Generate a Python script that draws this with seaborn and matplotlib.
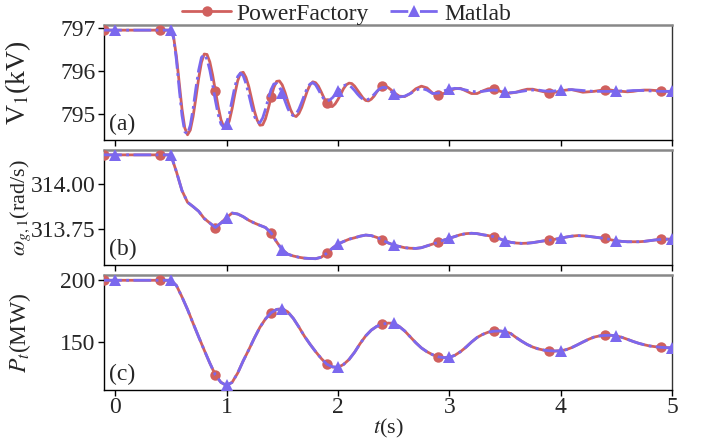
import numpy as np
import pandas as pd
import matplotlib
matplotlib.use("Agg")
import matplotlib.pyplot as plt
import seaborn as sns
from matplotlib.lines import Line2D

# ---------------- data ----------------
# time grids (s)
t_flat = np.arange(-1, 5) / 10.0        # -0.1 ... 0.4
t_fine = np.arange(20, 100) / 40.0      # 0.5 ... 2.475
t_coarse = np.arange(50, 101) / 20.0    # 2.5 ... 5.0
t_a = np.concatenate([t_flat, t_fine, t_coarse])
t_bc = np.arange(-2, 101) / 20.0        # -0.1 ... 5.0

# (a) bus voltage V1 (kV)
v1_pf = [796.94] * 6 + [
    796.94, 796.78, 796.34, 795.74, 795.13, 794.69, 794.53, 794.64, 794.95, 795.38,
    795.83, 796.20, 796.39, 796.38, 796.21, 795.91, 795.55, 795.18, 794.88, 794.71,
    794.69,
    794.85, 795.13, 795.47, 795.77, 795.95, 795.97, 795.85, 795.64, 795.36, 795.08,
    794.87, 794.75, 794.76, 794.90, 795.13, 795.39, 795.62, 795.76, 795.77, 795.68,
    795.51, 795.30, 795.11, 794.98, 794.95, 795.02, 795.16, 795.35, 795.54, 795.68,
    795.75, 795.73, 795.65, 795.52, 795.38, 795.26, 795.19, 795.18, 795.24, 795.34,
    795.46, 795.59, 795.68, 795.72, 795.71, 795.65, 795.56, 795.47, 795.38, 795.32,
    795.31, 795.35, 795.42, 795.52, 795.60, 795.65, 795.645, 795.62, 795.57,
] + [
    795.51, 795.42, 795.41, 795.48, 795.59, 795.65, 795.61, 795.49, 795.45, 795.48,
    795.54,
    795.59, 795.60, 795.54, 795.48, 795.48, 795.54, 795.59, 795.59, 795.54, 795.49,
    795.49, 795.51, 795.55, 795.58, 795.58, 795.55, 795.52, 795.50, 795.51, 795.54,
    795.56, 795.57, 795.54, 795.51, 795.52, 795.53, 795.55, 795.56, 795.56, 795.54,
    795.53, 795.52, 795.53, 795.55, 795.56, 795.56, 795.55, 795.54, 795.53, 795.53,
]
v1_ml = [796.94] * 6 + [
    796.94, 796.76, 796.26, 795.60, 794.98, 794.60, 794.55, 794.75, 795.13, 795.60,
    796.02, 796.31, 796.38, 796.27, 796.02, 795.69, 795.32, 795.00, 794.78, 794.70,
    794.78,
    795.01, 795.33, 795.64, 795.87, 795.95, 795.89, 795.71, 795.46, 795.19, 794.96,
    794.82, 794.81, 794.92, 795.12, 795.36, 795.57, 795.70, 795.71, 795.63, 795.49,
    795.31, 795.14, 795.01, 794.97, 795.01, 795.12, 795.28, 795.45, 795.61, 795.70,
    795.73, 795.68, 795.57, 795.45, 795.35, 795.31, 795.33, 795.38, 795.45, 795.53,
    795.60, 795.66, 795.68, 795.67, 795.62, 795.55, 795.47, 795.40, 795.35, 795.33,
    795.35, 795.39, 795.46, 795.53, 795.59, 795.62, 795.62, 795.58, 795.53,
] + [
    795.48, 795.40, 795.42, 795.48, 795.56, 795.60, 795.56, 795.48, 795.49, 795.54,
    795.58,
    795.60, 795.59, 795.56, 795.53, 795.52, 795.53, 795.55, 795.56, 795.55, 795.52,
    795.50, 795.51, 795.53, 795.55, 795.56, 795.56, 795.54, 795.53, 795.54, 795.56,
    795.57, 795.57, 795.56, 795.55, 795.54, 795.53, 795.53, 795.53, 795.53, 795.53,
    795.54, 795.54, 795.55, 795.55, 795.55, 795.54, 795.54, 795.53, 795.53, 795.53,
]

# (b) generator speed (rad/s)
omega_pf = [314.163] * 13 + [
    314.07, 313.965, 313.90, 313.876, 313.85, 313.81, 313.785, 313.76, 313.785, 313.815,
    313.84, 313.835, 313.82, 313.80, 313.785, 313.772, 313.76, 313.73, 313.68, 313.637,
    313.612, 313.602, 313.595, 313.59, 313.588, 313.587, 313.595, 313.617, 313.645, 313.668,
    313.682, 313.695, 313.703, 313.712, 313.718, 313.715, 313.705, 313.69, 313.675, 313.663,
    313.655, 313.648, 313.645, 313.644, 313.648, 313.658, 313.668, 313.678, 313.69, 313.70,
    313.71, 313.72, 313.726, 313.728, 313.726, 313.72, 313.715, 313.709, 313.698, 313.686,
    313.678, 313.674, 313.672, 313.673, 313.676, 313.681, 313.686, 313.69, 313.695, 313.70,
    313.707, 313.712, 313.715, 313.714, 313.711, 313.707, 313.703, 313.70, 313.692, 313.686,
    313.683, 313.681, 313.681, 313.681, 313.683, 313.687, 313.691, 313.694, 313.695, 313.696,
]
omega_ml = list(omega_pf)

# (c) active power (MW)
pt_pf = [200.0] * 13 + [
    195.8, 186.5, 176.3, 165.0, 154.0, 143.2, 132.7, 123.0, 117.0, 114.5,
    117.0, 124.5, 134.5, 143.5, 153.0, 161.8, 168.6, 173.6, 176.3, 176.9,
    174.3, 169.0, 162.0, 154.5, 148.0, 142.0, 136.5, 131.8, 129.6, 129.2,
    131.5, 135.6, 141.5, 148.6, 154.8, 159.5, 162.6, 164.3, 165.2, 165.0,
    162.5, 158.8, 154.0, 149.2, 145.0, 141.9, 139.5, 137.8, 137.1, 137.3,
    139.0, 141.9, 145.6, 149.8, 153.5, 156.0, 157.8, 158.6, 158.8, 158.3,
    156.8, 153.5, 150.5, 147.8, 145.7, 144.2, 143.2, 142.7, 142.5, 142.7,
    143.6, 145.3, 147.5, 149.8, 152.0, 153.8, 154.8, 155.2, 155.3, 154.8,
    153.6, 152.0, 150.3, 148.8, 147.6, 146.6, 146.0, 145.5, 145.2, 145.1,
]
pt_ml = list(pt_pf)

# marker times
pf_marker_t = [-0.1, 0.4, 0.9, 1.4, 1.9, 2.4, 2.9, 3.4, 3.9, 4.4, 4.9]
ml_marker_t = [0.0, 0.5, 1.0, 1.5, 2.0, 2.5, 3.0, 3.5, 4.0, 4.5, 5.0]

series_labels = ["PowerFactory", "Matlab"]
panel_tags = ["(a)", "(b)", "(c)"]
ylabels = [r"V$_1$(kV)", r"$\omega_{g,1}$(rad/s)", r"$P_t$(MW)"]

assert len(v1_pf) == len(t_a) and len(v1_ml) == len(t_a)
assert len(omega_pf) == len(t_bc) and len(pt_pf) == len(t_bc)

# ---------------- style ----------------
sns.set_style("ticks")
plt.rcParams["font.family"] = ["Liberation Serif", "DejaVu Serif"]
plt.rcParams["mathtext.fontset"] = "stix"
plt.rcParams["xtick.direction"] = "out"
plt.rcParams["ytick.direction"] = "out"

RED = "#d0605e"
BLUE = "#7b68ee"
FS = 17
ylabel_fs = [20, 16, 17]

fig = plt.figure(figsize=(7.01, 4.45), dpi=100)
L, R = 104 / 701, 672 / 701
boxes = [(24.5, 140), (150, 265), (275, 390)]
axes = []
for top, bot in boxes:
    axes.append(fig.add_axes([L, 1 - bot / 445, R - L, (bot - top) / 445]))


def idx_of(tt, marks):
    tt = np.asarray(tt)
    return [int(np.argmin(np.abs(tt - m))) for m in marks]


data = [
    (t_a, v1_pf, v1_ml),
    (t_bc, omega_pf, omega_ml),
    (t_bc, pt_pf, pt_ml),
]
ylims = [(794.41, 797.07), (313.552, 314.19), (110.8, 204.3)]
yticks = [[795, 796, 797], [313.75, 314.00], [150, 200]]
ytl = [["795", "796", "797"], ["313.75", "314.00"], ["150", "200"]]

for k, (ax, (tt, ypf, yml)) in enumerate(zip(axes, data)):
    df = pd.DataFrame({"t": tt, "pf": ypf, "ml": yml})
    sns.lineplot(data=df, x="t", y="pf", ax=ax, color=RED, lw=2.0,
                 marker="o", markersize=7.5, markeredgewidth=0,
                 markevery=idx_of(tt, pf_marker_t), zorder=3)
    sns.lineplot(data=df, x="t", y="ml", ax=ax, color=BLUE, lw=2.0, ls="-.",
                 marker="^", markersize=8.5, markeredgewidth=0,
                 markevery=idx_of(tt, ml_marker_t), zorder=4)
    ax.set_xlim(-0.1, 5.0)
    ax.set_ylim(*ylims[k])
    ax.set_yticks(yticks[k])
    ax.set_yticklabels(ytl[k])
    ax.set_xticks([0, 1, 2, 3, 4, 5])
    ax.set_xlabel("")
    ax.set_ylabel(ylabels[k], fontsize=ylabel_fs[k])
    ax.yaxis.set_label_coords(-0.125, 0.5)
    ax.tick_params(axis="both", labelsize=FS, length=4, width=1, pad=2, color="black")
    if k < 2:
        ax.tick_params(axis="x", labelbottom=False)
    for s in ["left", "bottom", "right"]:
        ax.spines[s].set_color("black")
        ax.spines[s].set_linewidth(1.0)
    ax.spines["top"].set_color("#888888")
    ax.spines["top"].set_linewidth(1.8)
    ax.spines["right"].set_color("#333333")
    ax.text(0.008, 0.04, panel_tags[k], transform=ax.transAxes, fontsize=FS,
            ha="left", va="bottom")

axes[2].tick_params(axis="x", pad=1)
axes[2].set_xlabel(r"$t$(s)", fontsize=16, labelpad=-1)

handles = [
    Line2D([], [], color=RED, lw=2.0, marker="o", markersize=7.5, markeredgewidth=0),
    Line2D([], [], color=BLUE, lw=2.0, ls="-.", marker="^", markersize=8.5, markeredgewidth=0),
]
fig.legend(handles, series_labels, loc="upper center", bbox_to_anchor=(0.494, 1.025),
           ncol=2, frameon=False, fontsize=FS, handlelength=2.1, handletextpad=0.2,
           columnspacing=0.9, borderaxespad=0.2)

fig.savefig("out.png", dpi=100)
